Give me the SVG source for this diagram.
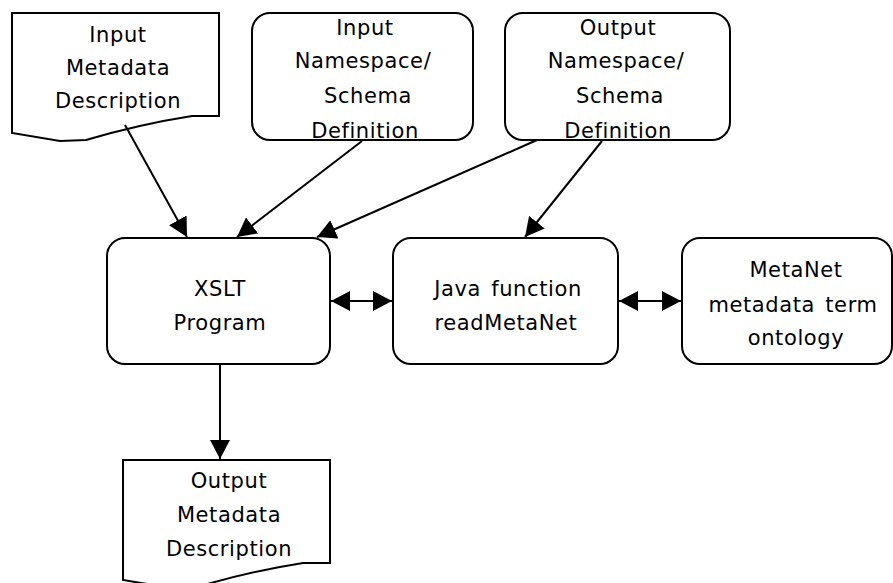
<svg xmlns="http://www.w3.org/2000/svg" width="893" height="583" viewBox="0 0 893 583">
  <style>
    .shape { fill: #ffffff; stroke: #000000; stroke-width: 2; }
    .label { font-family: "DejaVu Sans", "Noto Sans CJK JP", sans-serif; font-size: 21px; letter-spacing: 0.6px; word-spacing: 3px; fill: #000000; text-anchor: middle; }
    .link { fill: none; stroke: #000000; stroke-width: 2; }
  </style>
  <defs>
    <marker id="head" viewBox="0 0 20 20" refX="19" refY="10" markerWidth="20" markerHeight="20" markerUnits="userSpaceOnUse" orient="auto-start-reverse">
      <path d="M0,0 L19,10 L0,20 Z" fill="#000000"/>
    </marker>
  </defs>
  <rect x="0" y="0" width="893" height="583" fill="#ffffff"/>

  <!-- document: input metadata -->
  <g id="input-metadata">
    <path class="shape" d="M12,13 H219 V116 H192 C160,121 120,130 86,140 L60,141 L12,133 Z"/>
    <text class="label" x="118" y="42">Input</text>
    <text class="label" x="118" y="75">Metadata</text>
    <text class="label" x="118" y="108">Description</text>
  </g>

  <!-- input schema -->
  <g id="input-schema">
    <rect class="shape" x="252" y="13" width="221" height="127" rx="18" ry="18"/>
    <text class="label" x="365" y="35">Input</text>
    <text class="label" x="363" y="68">Namespace/</text>
    <text class="label" x="368" y="103">Schema</text>
    <text class="label" x="365" y="138">Definition</text>
  </g>

  <!-- output schema -->
  <g id="output-schema">
    <rect class="shape" x="505" y="13" width="225" height="127" rx="18" ry="18"/>
    <text class="label" x="618" y="35">Output</text>
    <text class="label" x="616" y="68">Namespace/</text>
    <text class="label" x="620" y="103">Schema</text>
    <text class="label" x="618" y="138">Definition</text>
  </g>

  <!-- XSLT program -->
  <g id="xslt">
    <rect class="shape" x="107" y="238" width="223" height="126" rx="18" ry="18"/>
    <text class="label" x="220" y="296">XSLT</text>
    <text class="label" x="220" y="330">Program</text>
  </g>

  <!-- Java function -->
  <g id="java">
    <rect class="shape" x="393" y="238" width="225" height="126" rx="18" ry="18"/>
    <text class="label" x="508" y="296">Java function</text>
    <text class="label" x="506" y="330">readMetaNet</text>
  </g>

  <!-- MetaNet ontology -->
  <g id="metanet">
    <rect class="shape" x="682" y="238" width="210" height="126" rx="18" ry="18"/>
    <text class="label" x="796" y="277">MetaNet</text>
    <text class="label" x="793" y="312">metadata term</text>
    <text class="label" x="796" y="345">ontology</text>
  </g>

  <!-- document: output metadata -->
  <g id="output-metadata">
    <path class="shape" d="M123,460 H330 V563 H303 C271,568 231,577 197,587 L171,588 L123,580 Z"/>
    <text class="label" x="229" y="488">Output</text>
    <text class="label" x="229" y="522">Metadata</text>
    <text class="label" x="229" y="556">Description</text>
  </g>

  <!-- connectors -->
  <g id="connectors">
    <line class="link" x1="125" y1="125" x2="187" y2="237" marker-end="url(#head)"/>
    <line class="link" x1="362" y1="141" x2="237" y2="237" marker-end="url(#head)"/>
    <line class="link" x1="537" y1="140" x2="317" y2="237" marker-end="url(#head)"/>
    <line class="link" x1="602" y1="141" x2="525" y2="237" marker-end="url(#head)"/>
    <line class="link" x1="331" y1="301" x2="392" y2="301" marker-start="url(#head)" marker-end="url(#head)"/>
    <line class="link" x1="619" y1="301" x2="681" y2="301" marker-start="url(#head)" marker-end="url(#head)"/>
    <line class="link" x1="220" y1="364" x2="220" y2="459" marker-end="url(#head)"/>
  </g>
</svg>
